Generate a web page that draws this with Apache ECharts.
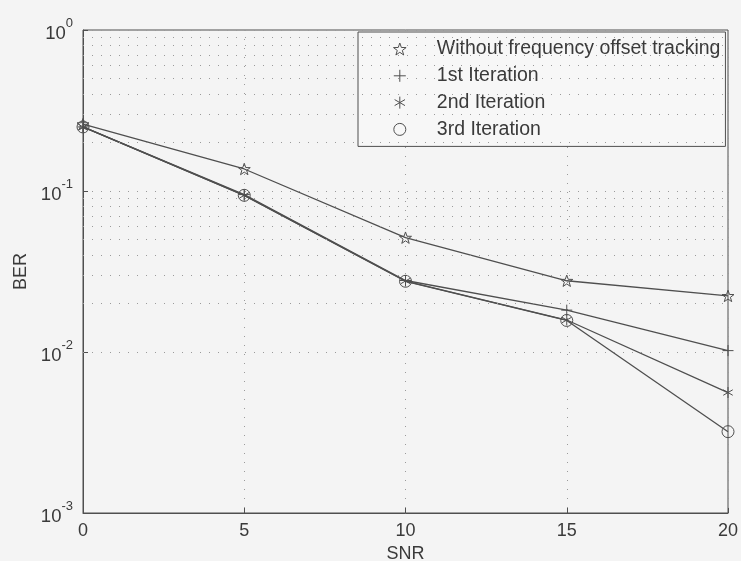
<!DOCTYPE html>
<html>
<head>
<meta charset="utf-8">
<script src="https://cdn.jsdelivr.net/npm/echarts@6/dist/echarts.min.js"></script>
<style>
  html, body { margin: 0; padding: 0; background: #f4f4f4; }
  #chart { width: 741px; height: 561px; }
</style>
</head>
<body>
<div id="chart"></div>
<script>
// SNR points (dB)
const snr = [0, 5, 10, 15, 20];

// Bit error rate for each receiver configuration
const berNoTracking = [0.26, 0.137, 0.0513, 0.0277, 0.0223];
const berIter1 = [0.25, 0.095, 0.0278, 0.0182, 0.0102];
const berIter2 = [0.25, 0.094, 0.0276, 0.0158, 0.0056];
const berIter3 = [0.25, 0.094, 0.0275, 0.0157, 0.0032];

const seriesNames = [
  'Without frequency offset tracking',
  '1st Iteration',
  '2nd Iteration',
  '3rd Iteration'
];

// Marker outlines drawn in a 20x20 box
const STAR = 'path://M10 0 L12.35 6.76 L19.51 6.91 L13.8 11.24 L15.88 18.09 L10 14 L4.12 18.09 L6.2 11.24 L0.49 6.91 L7.65 6.76 Z';
const PLUS = 'path://M10 0 L10 20 M0 10 L20 10';
const ASTERISK = 'path://M10 0 L10 20 M1.34 5 L18.66 15 M1.34 15 L18.66 5';
const CIRCLE = 'circle';

const INK = '#4f4f4f';
const TEXT = '#3a3a3a';
const FONT = '"Liberation Sans", Arial, sans-serif';

// Minor log grid positions: 2..9 within each decade
const minorGrid = [];
for (let e = -3; e < 0; e++) {
  for (let m = 2; m <= 9; m++) minorGrid.push({ yAxis: m * Math.pow(10, e) });
}

const dotted = { color: '#9a9a9a', width: 1, type: [1, 8] };
const hollow = { color: 'rgba(0,0,0,0)', borderColor: INK, borderWidth: 1 };

function pairs(ys) { return snr.map((x, i) => [x, ys[i]]); }

function lineSeries(name, ys, symbol, size) {
  return {
    name: name,
    type: 'line',
    data: pairs(ys),
    symbol: symbol,
    symbolSize: size,
    symbolKeepAspect: true,
    z: 3,
    lineStyle: { color: INK, width: 1.3 },
    itemStyle: hollow,
    emphasis: { disabled: true }
  };
}

const chart = echarts.init(document.getElementById('chart'), null, { renderer: 'canvas' });

chart.setOption({
  backgroundColor: '#f4f4f4',
  animation: false,
  textStyle: { fontFamily: FONT },
  grid: {
    left: 83, right: 13, top: 30, bottom: 48,
    containLabel: false,
    outerBoundsMode: 'none',
    show: true, borderColor: INK, borderWidth: 1, backgroundColor: 'transparent'
  },
  xAxis: {
    type: 'value',
    min: 0, max: 20, interval: 5,
    name: 'SNR',
    nameLocation: 'middle',
    nameGap: 31,
    nameTextStyle: { fontSize: 18, color: TEXT, fontFamily: FONT },
    axisLine: { lineStyle: { color: INK } },
    axisTick: { inside: true, length: 5, lineStyle: { color: INK } },
    axisLabel: { fontSize: 18, color: TEXT, margin: 9, fontFamily: FONT },
    splitLine: { show: true, lineStyle: dotted }
  },
  yAxis: {
    type: 'log',
    logBase: 10,
    min: 0.001, max: 1,
    name: 'BER',
    nameLocation: 'middle',
    nameGap: 52,
    nameTextStyle: { fontSize: 18, color: TEXT, fontFamily: FONT },
    axisLine: { lineStyle: { color: INK } },
    axisTick: { inside: true, length: 5, lineStyle: { color: INK } },
    axisLabel: {
      margin: 10,
      formatter: function (v) {
        const e = Math.round(Math.log10(v));
        return '{b|10}{e|' + e + '}';
      },
      rich: {
        b: { fontSize: 18.5, color: TEXT, fontFamily: FONT, lineHeight: 26, verticalAlign: 'bottom' },
        e: { fontSize: 13, color: TEXT, fontFamily: FONT, verticalAlign: 'top' }
      }
    },
    splitLine: { show: true, lineStyle: dotted }
  },
  legend: {
    orient: 'vertical',
    left: 358, top: 32,
    padding: [7, 5, 7, 35],
    itemWidth: 64,
    itemHeight: 12,
    itemGap: 6.8,
    backgroundColor: '#f7f7f7',
    borderColor: INK,
    borderWidth: 1,
    borderRadius: 0,
    selectedMode: false,
    itemStyle: hollow,
    textStyle: { fontSize: 19.5, color: TEXT, fontFamily: FONT, lineHeight: 19.5 },
    data: [
      { name: seriesNames[0], icon: STAR, itemStyle: hollow },
      { name: seriesNames[1], icon: PLUS, itemStyle: hollow },
      { name: seriesNames[2], icon: ASTERISK, itemStyle: hollow },
      { name: seriesNames[3], icon: CIRCLE, itemStyle: hollow }
    ]
  },
  series: [
    {
      // carrier for the minor grid lines of the log axis; its own line is invisible
      name: 'grid',
      type: 'line',
      data: pairs(berNoTracking),
      showSymbol: false,
      silent: true,
      z: 1,
      lineStyle: { opacity: 0 },
      itemStyle: { opacity: 0 },
      markLine: {
        silent: true,
        symbol: 'none',
        animation: false,
        label: { show: false },
        lineStyle: dotted,
        emphasis: { disabled: true },
        data: minorGrid
      }
    },
    lineSeries(seriesNames[0], berNoTracking, STAR, 12),
    lineSeries(seriesNames[1], berIter1, PLUS, 11),
    lineSeries(seriesNames[2], berIter2, ASTERISK, 11),
    lineSeries(seriesNames[3], berIter3, CIRCLE, 12)
  ]
});
</script>
</body>
</html>
